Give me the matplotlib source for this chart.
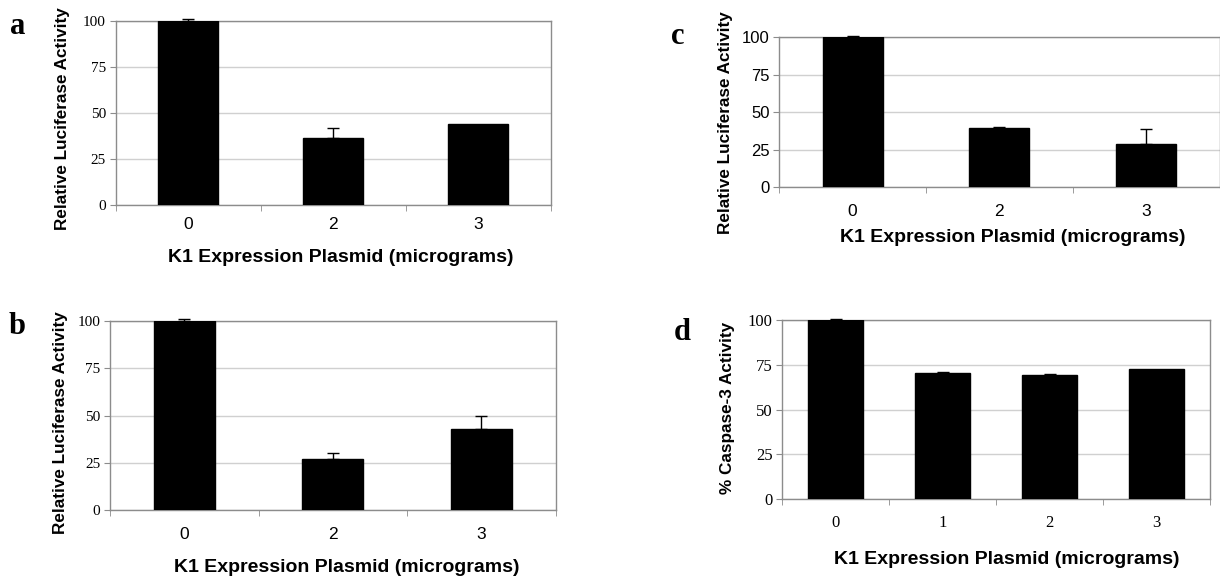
import matplotlib
matplotlib.use("Agg")
import matplotlib.pyplot as plt
from matplotlib.ticker import FixedLocator

# ---------------- data ----------------
a_cats = ["0", "2", "3"]
a_vals = [100, 36.6, 44.0]
a_err = [0.9, 5.2, 0.0]

b_cats = ["0", "2", "3"]
b_vals = [100, 26.9, 42.9]
b_err = [1.0, 3.2, 7.1]

c_cats = ["0", "2", "3"]
c_vals = [100, 39.6, 28.9]
c_err = [0.8, 0.7, 9.6]

d_cats = ["0", "1", "2", "3"]
d_vals = [100, 70.2, 69.2, 72.7]
d_err = [0.6, 0.8, 0.8, 0.0]

y_ticks = [0, 25, 50, 75, 100]
xlabel = "K1 Expression Plasmid (micrograms)"
ylabel_luc = "Relative Luciferase Activity"
ylabel_casp = "% Caspase-3 Activity"

W, H = 1220, 579
fig = plt.figure(figsize=(W / 100, H / 100), dpi=100)
fig.patch.set_facecolor("white")

SERIF = ["Liberation Serif", "DejaVu Serif"]
SANS = ["Liberation Sans", "DejaVu Sans"]
GRAY = "#8c8c8c"
GRID = "#d0d0d0"


def px_rect(left, right, top, bottom):
    return [left / W, 1 - bottom / H, (right - left) / W, (bottom - top) / H]


def panel(rect, cats, vals, errs, width, ytfont, ytsize, xtfont, xtsize, xpad):
    ax = fig.add_axes(px_rect(*rect))
    x = list(range(len(cats)))
    ax.bar(x, vals, width=width, color="black", edgecolor="black", zorder=3)
    ex = [xi for xi, e in zip(x, errs) if e > 0]
    ev = [v for v, e in zip(vals, errs) if e > 0]
    ee = [e for e in errs if e > 0]
    ax.errorbar(ex, ev, yerr=[[0] * len(ee), ee], fmt="none", ecolor="black",
                elinewidth=1.0, capsize=4, capthick=1.0, zorder=4, clip_on=False)
    ax.set_xlim(-0.5, len(cats) - 0.5)
    ax.set_ylim(0, 100)
    ax.set_yticks(y_ticks)
    ax.set_yticklabels([str(t) for t in y_ticks], family=ytfont, fontsize=ytsize)
    ax.set_xticks(x)
    ax.set_xticklabels(cats, family=xtfont, fontsize=xtsize)
    ax.xaxis.set_minor_locator(FixedLocator([i - 0.5 for i in range(len(cats) + 1)]))
    ax.tick_params(axis="x", which="major", length=0, pad=xpad, colors="black")
    ax.tick_params(axis="x", which="minor", length=4, color=GRAY, direction="out")
    ax.tick_params(axis="y", which="major", length=4, color=GRAY, direction="out",
                   pad=3, labelcolor="black")
    ax.yaxis.grid(True, color=GRID, linewidth=1.0)
    ax.set_axisbelow(True)
    for s in ax.spines.values():
        s.set_color(GRAY)
        s.set_linewidth(1.0)
    return ax


# panel a
panel((115.7, 550.7, 21, 205), a_cats, a_vals, a_err, 0.41,
      SERIF, 11, SANS, 12.5, 8.5)
# panel b
panel((110, 555.7, 321, 510.3), b_cats, b_vals, b_err, 0.41,
      SERIF, 11, SANS, 12.5, 12)
# panel c
panel((779.3, 1219.5, 37.3, 187), c_cats, c_vals, c_err, 0.41,
      SANS, 12, SANS, 12.5, 12)
# panel d
panel((782.3, 1210, 319.7, 499.3), d_cats, d_vals, d_err, 0.515,
      SERIF, 12, SERIF, 12, 11)


def ftext(x, y, s, **kw):
    fig.text(x / W, 1 - y / H, s, ha="center", va="center", **kw)


# panel letters
for (lx, ly, s) in [(18, 26, "a"), (17.5, 326, "b"), (677.5, 37, "c"), (682.5, 332.5, "d")]:
    ftext(lx, ly, s, family=SERIF, fontsize=22, fontweight="bold")

# y labels
YL = 12.3
ftext(63, 119, ylabel_luc, family=SANS, fontsize=YL, fontweight="bold", rotation=90)
ftext(61, 423, ylabel_luc, family=SANS, fontsize=YL, fontweight="bold", rotation=90)
ftext(725, 123, ylabel_luc, family=SANS, fontsize=YL, fontweight="bold", rotation=90)
ftext(727.7, 408, ylabel_casp, family=SANS, fontsize=YL, fontweight="bold", rotation=90)

# x labels
XL = 14
ftext(341, 258, xlabel, family=SANS, fontsize=XL, fontweight="bold")
ftext(347, 567, xlabel, family=SANS, fontsize=XL, fontweight="bold")
ftext(1013, 237, xlabel, family=SANS, fontsize=XL, fontweight="bold")
ftext(1007, 560, xlabel, family=SANS, fontsize=XL, fontweight="bold")

fig.savefig("out.png", dpi=100, facecolor="white")
